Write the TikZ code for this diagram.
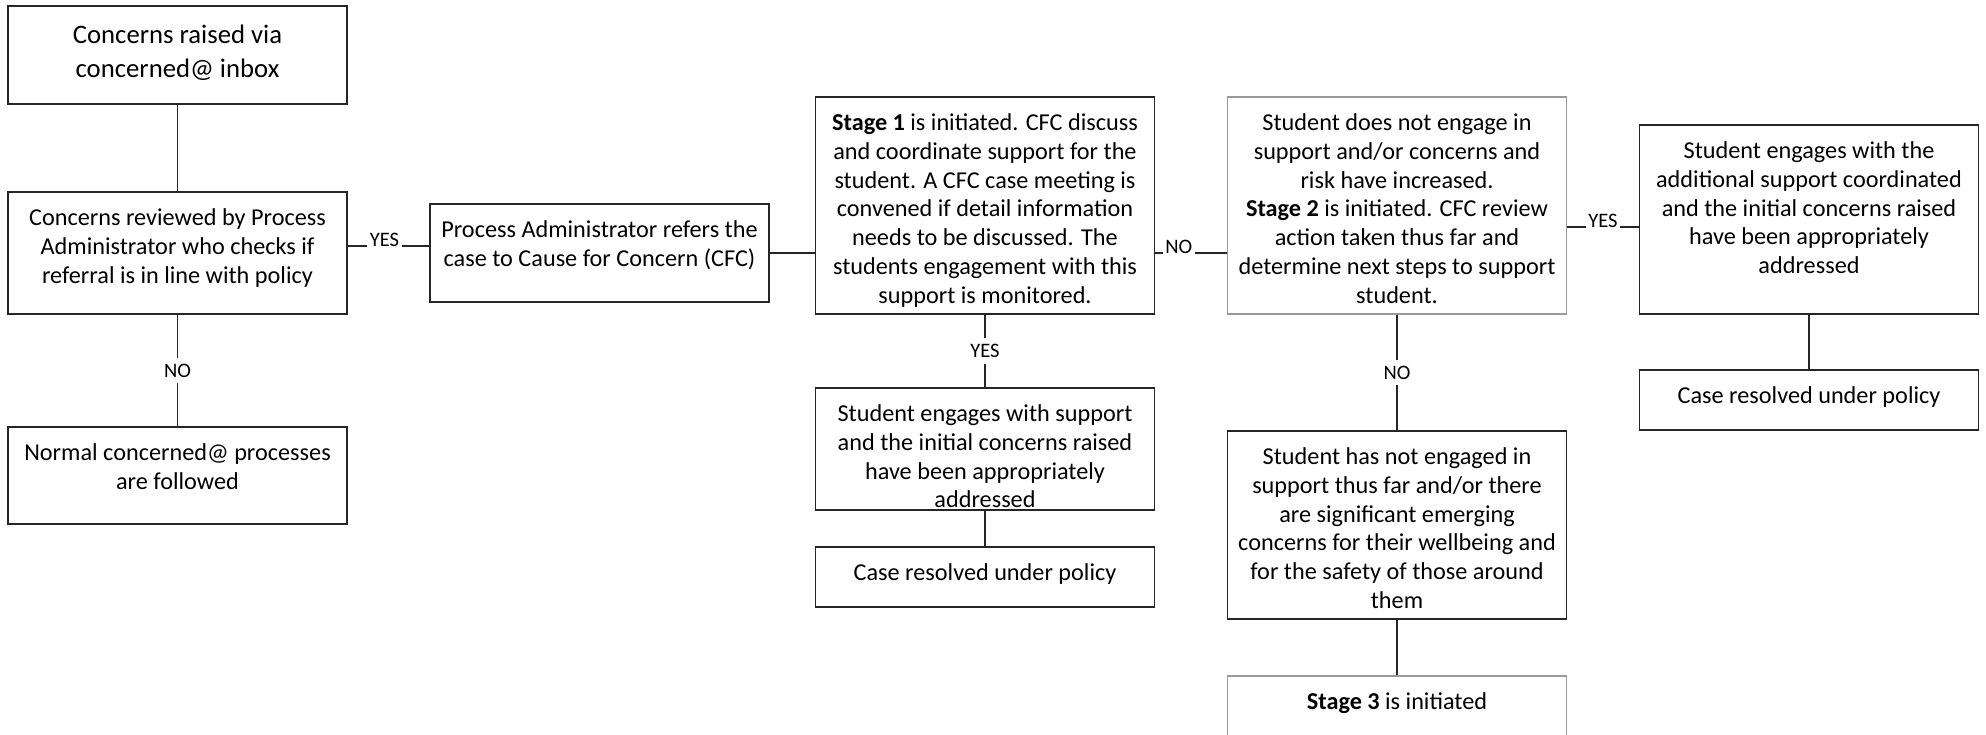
\documentclass[tikz,border=0pt]{standalone}
\usepackage{fontspec}
\setmainfont{Carlito}

\newcommand{\boxtext}[2]{\parbox[c][#1][t]{6.5cm}{\vspace*{0.07cm}\centering\strut #2}}

\begin{document}
\begin{tikzpicture}[box/.style={draw=black!85, line width=0.8pt, inner xsep=0.14cm, inner ysep=0.2cm, font=\fontsize{13.8}{16.35}\selectfont},
palebox/.style={box, draw=black!40},
bigbox/.style={box, font=\fontsize{15.2}{19.3}\selectfont},
conn/.style={draw=black!85, line width=0.6pt},
lbl/.style={fill=white, inner xsep=1.5pt, inner ysep=3.5pt, font=\fontsize{11.7}{14}\selectfont},
hlbl/.style={lbl, anchor=base, inner ysep=0.8pt}]
\useasboundingbox (0,0) rectangle (39.72,-14.68);
\clip (0,0) rectangle (39.72,-14.68);

\node[bigbox] (inbox) at (3.55,-1.10) {\boxtext{1.56cm}{Concerns raised via\\concerned@ inbox}};
\node[box] (review) at (3.55,-5.06) {\boxtext{2.04cm}{Concerns reviewed by Process\\Administrator who checks if\\referral is in line with policy}};
\node[box] (normal) at (3.55,-9.51) {\boxtext{1.54cm}{Normal concerned@ processes\\are followed}};

\node[box] (refer) at (11.99,-5.06) {\boxtext{1.56cm}{Process Administrator refers the\\case to Cause for Concern (CFC)}};

\node[box] (stageone) at (19.70,-4.11) {\boxtext{3.94cm}{\textbf{Stage 1} is initiated. CFC discuss\\and coordinate support for the\\student. A CFC case meeting is\\convened if detail information\\needs to be discussed. The\\students engagement with this\\support is monitored.}};
\node[box] (engageone) at (19.70,-8.98) {\boxtext{2.04cm}{Student engages with support\\and the initial concerns raised\\have been appropriately\\addressed}};
\node[box] (resolveone) at (19.70,-11.54) {\boxtext{0.80cm}{Case resolved under policy}};

\node[palebox] (stagetwo) at (27.94,-4.11) {\boxtext{3.94cm}{Student does not engage in\\support and/or concerns and\\risk have increased.\\\textbf{Stage 2} is initiated. CFC review\\action taken thus far and\\determine next steps to support\\student.}};
\node[box] (noengage) at (27.94,-10.50) {\boxtext{3.36cm}{Student has not engaged in\\support thus far and/or there\\are significant emerging\\concerns for their wellbeing and\\for the safety of those around\\them}};
\node[palebox] (stagethree) at (27.94,-14.32) {\boxtext{1.20cm}{\textbf{Stage 3} is initiated}};

\node[box] (engagetwo) at (36.18,-4.39) {\boxtext{3.38cm}{Student engages with the\\additional support coordinated\\and the initial concerns raised\\have been appropriately\\addressed}};
\node[box] (resolvetwo) at (36.18,-8.00) {\boxtext{0.80cm}{Case resolved under policy}};

\coordinate (yesone) at ([yshift=0.14cm]review.east);
\coordinate (yestwo) at ([yshift=-0.15cm]engagetwo.west);

\path[conn] (inbox) edge (review);
\path[conn] (review) edge node[lbl] {NO} (normal);
\path[conn] (yesone) edge node[hlbl, pos=0.45] {YES} (yesone -| refer.west);
\path[conn] (refer.east) edge (refer.east -| stageone.west);
\path[conn] (stageone) edge node[lbl] {YES} (engageone);
\path[conn] (engageone) edge (resolveone);
\path[conn] (refer.east -| stageone.east) edge node[hlbl, pos=0.33] {NO} (refer.east -| stagetwo.west);
\path[conn] (stagetwo) edge node[lbl] {NO} (noengage);
\path[conn] (noengage) edge (stagethree);
\path[conn] (yestwo -| stagetwo.east) edge node[hlbl] {YES} (yestwo);
\path[conn] (engagetwo) edge (resolvetwo);
\end{tikzpicture}
\end{document}
